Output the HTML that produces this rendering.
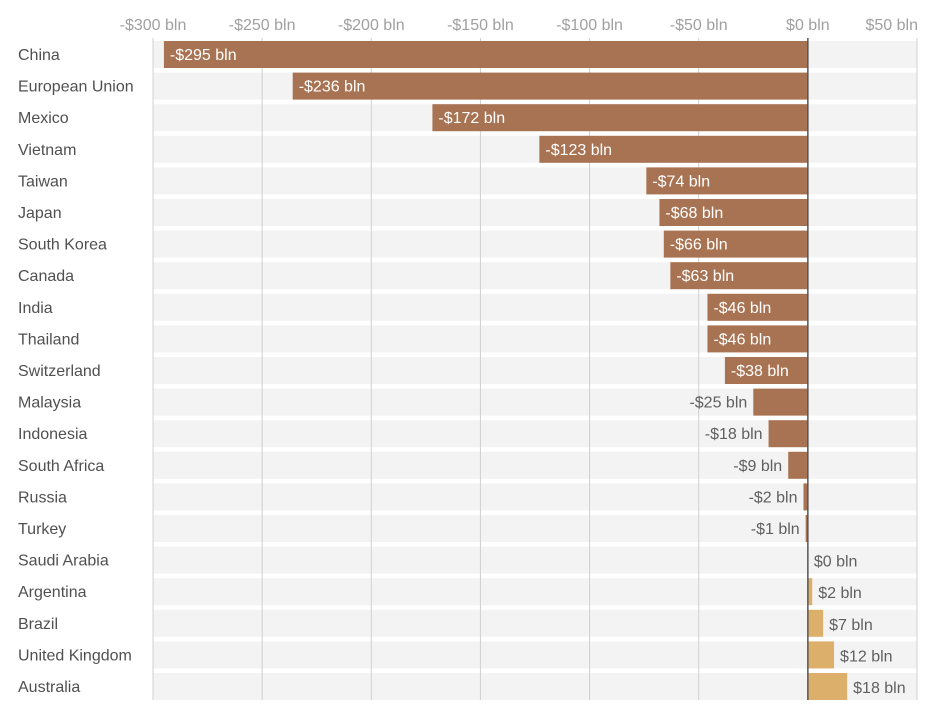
<!DOCTYPE html>
<html><head><meta charset="utf-8"><style>
body{margin:0;background:#fff;font-family:"Liberation Sans",sans-serif;}
svg{display:block}
</style></head><body>
<svg id="chart" width="929" height="710" xmlns="http://www.w3.org/2000/svg"></svg>
<script>
const countries=["China","European Union","Mexico","Vietnam","Taiwan","Japan","South Korea","Canada","India","Thailand","Switzerland","Malaysia","Indonesia","South Africa","Russia","Turkey","Saudi Arabia","Argentina","Brazil","United Kingdom","Australia"];
const values=[-295,-236,-172,-123,-74,-68,-66,-63,-46,-46,-38,-25,-18,-9,-2,-1,0,2,7,12,18];
const ticks=[-300,-250,-200,-150,-100,-50,0,50];
const svg=document.getElementById('chart');
const NS='http://www.w3.org/2000/svg';
const x0=153,x1=917,vmin=-300,vmax=50;
const x=v=>x0+(v-vmin)/(vmax-vmin)*(x1-x0);
const rowTop=i=>41+i*31.6;
const bh=27;
function mk(tag,attrs,parent){const e=document.createElementNS(NS,tag);for(const k in attrs)e.setAttribute(k,attrs[k]);(parent||svg).appendChild(e);return e;}
const fmt=v=>(v<0?'-':'')+'$'+Math.abs(v)+' bln';
countries.forEach((c,i)=>{
  const r=mk('rect',{x:x0,y:rowTop(i),width:x1-x0,height:bh,fill:'#f3f3f3'});
  
  
});
ticks.forEach(t=>{
  if(t===0)return;
  const l=mk('line',{x1:x(t),x2:x(t),y1:38,y2:700,stroke:'#d0d0d0','stroke-width':1});
  
  
});
ticks.forEach((t,k)=>{
  const last=k===ticks.length-1;
  const tx=mk('text',{x:last?x(t)+1:x(t),y:30,'text-anchor':last?'end':'middle','font-size':16,fill:'#a0a0a0'});
  tx.textContent=fmt(t);
  
  
});
countries.forEach((c,i)=>{
  const v=values[i],y=rowTop(i);
  const lab=mk('text',{x:18,y:y+bh/2+5.5,'font-size':16,fill:'#505050'});
  lab.textContent=c;
  
  
  const xa=Math.min(x(v),x(0)),w=Math.abs(x(v)-x(0));
  const b=mk('rect',{x:xa,y:y,width:Math.max(w,0.01),height:bh,fill:v<0?'#a87352':'#dcb06a'});
  
  
  let tx;
  if(v<0&&w>70){tx=mk('text',{x:xa+6,y:y+bh/2+5.5,'font-size':16,fill:'#ffffff'});}
  else if(v<0){tx=mk('text',{x:xa-6,y:y+bh/2+5.5,'font-size':16,fill:'#606060','text-anchor':'end'});}
  else{tx=mk('text',{x:x(v)+6,y:y+bh/2+6.5,'font-size':16,fill:'#606060'});}
  tx.textContent=fmt(v);
  
  
});
const z=mk('line',{x1:x(0),x2:x(0),y1:38,y2:700,stroke:'#555','stroke-width':1.5});


</script>
</body></html>
